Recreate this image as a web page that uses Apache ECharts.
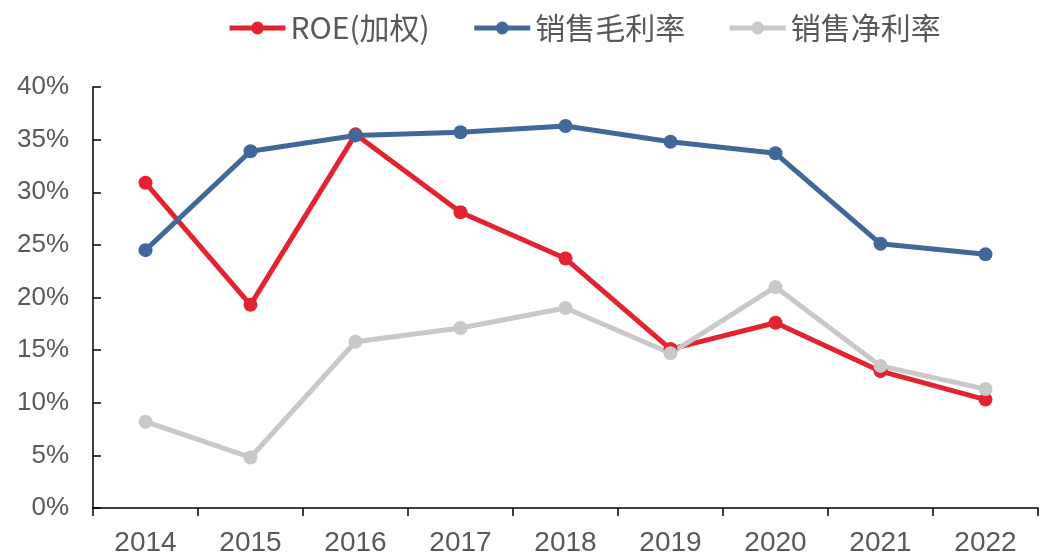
<!DOCTYPE html>
<html>
<head>
<meta charset="utf-8">
<script src="https://cdn.jsdelivr.net/npm/echarts@6/dist/echarts.min.js"></script>
<style>
  html, body { margin: 0; padding: 0; background: #fff; }
  #chart { width: 1040px; height: 557px; }
</style>
</head>
<body>
<div id="chart"></div>
<script>
const years = ["2014", "2015", "2016", "2017", "2018", "2019", "2020", "2021", "2022"];
const roe = [30.9, 19.3, 35.5, 28.1, 23.7, 15.1, 17.6, 13.0, 10.3];
const grossMargin = [24.5, 33.9, 35.4, 35.7, 36.3, 34.8, 33.7, 25.1, 24.1];
const netMargin = [8.2, 4.8, 15.8, 17.1, 19.0, 14.7, 21.0, 13.5, 11.3];

const chart = echarts.init(document.getElementById("chart"));

function line(name, data, color) {
  return {
    name: name,
    type: "line",
    data: data,
    symbol: "circle",
    symbolSize: 14,
    itemStyle: { color: color },
    lineStyle: { color: color, width: 5 },
  };
}

chart.setOption({
  animation: false,
  textStyle: { fontFamily: "Noto Sans CJK SC" },
  legend: {
    top: 8,
    left: 222,
    itemWidth: 56,
    itemHeight: 16,
    itemGap: 42,
    lineStyle: { width: 5 },
    textStyle: { color: "#595959", fontSize: 30 },
    data: ["ROE(加权)", "销售毛利率", "销售净利率"],
  },
  grid: { left: 93, right: 2, top: 87, bottom: 48 },
  xAxis: {
    type: "category",
    data: years,
    boundaryGap: true,
    axisLine: { lineStyle: { color: "#000", width: 1.5 } },
    axisTick: { show: true, length: 8, lineStyle: { color: "#000", width: 1.5 } },
    axisLabel: { color: "#595959", fontSize: 28, margin: 21, fontFamily: "Liberation Sans" },
  },
  yAxis: {
    type: "value",
    min: 0,
    max: 40,
    interval: 5,
    axisLine: { show: true, lineStyle: { color: "#000", width: 1.5 } },
    axisTick: { show: true, inside: true, length: 8, lineStyle: { color: "#000", width: 1.5 } },
    splitLine: { show: false },
    axisLabel: { color: "#595959", fontSize: 26, margin: 24, formatter: "{value}%", fontFamily: "Liberation Sans" },
  },
  series: [
    line("ROE(加权)", roe, "#E42332"),
    line("销售毛利率", grossMargin, "#416898"),
    line("销售净利率", netMargin, "#C9C9C9"),
  ],
});
</script>
</body>
</html>
